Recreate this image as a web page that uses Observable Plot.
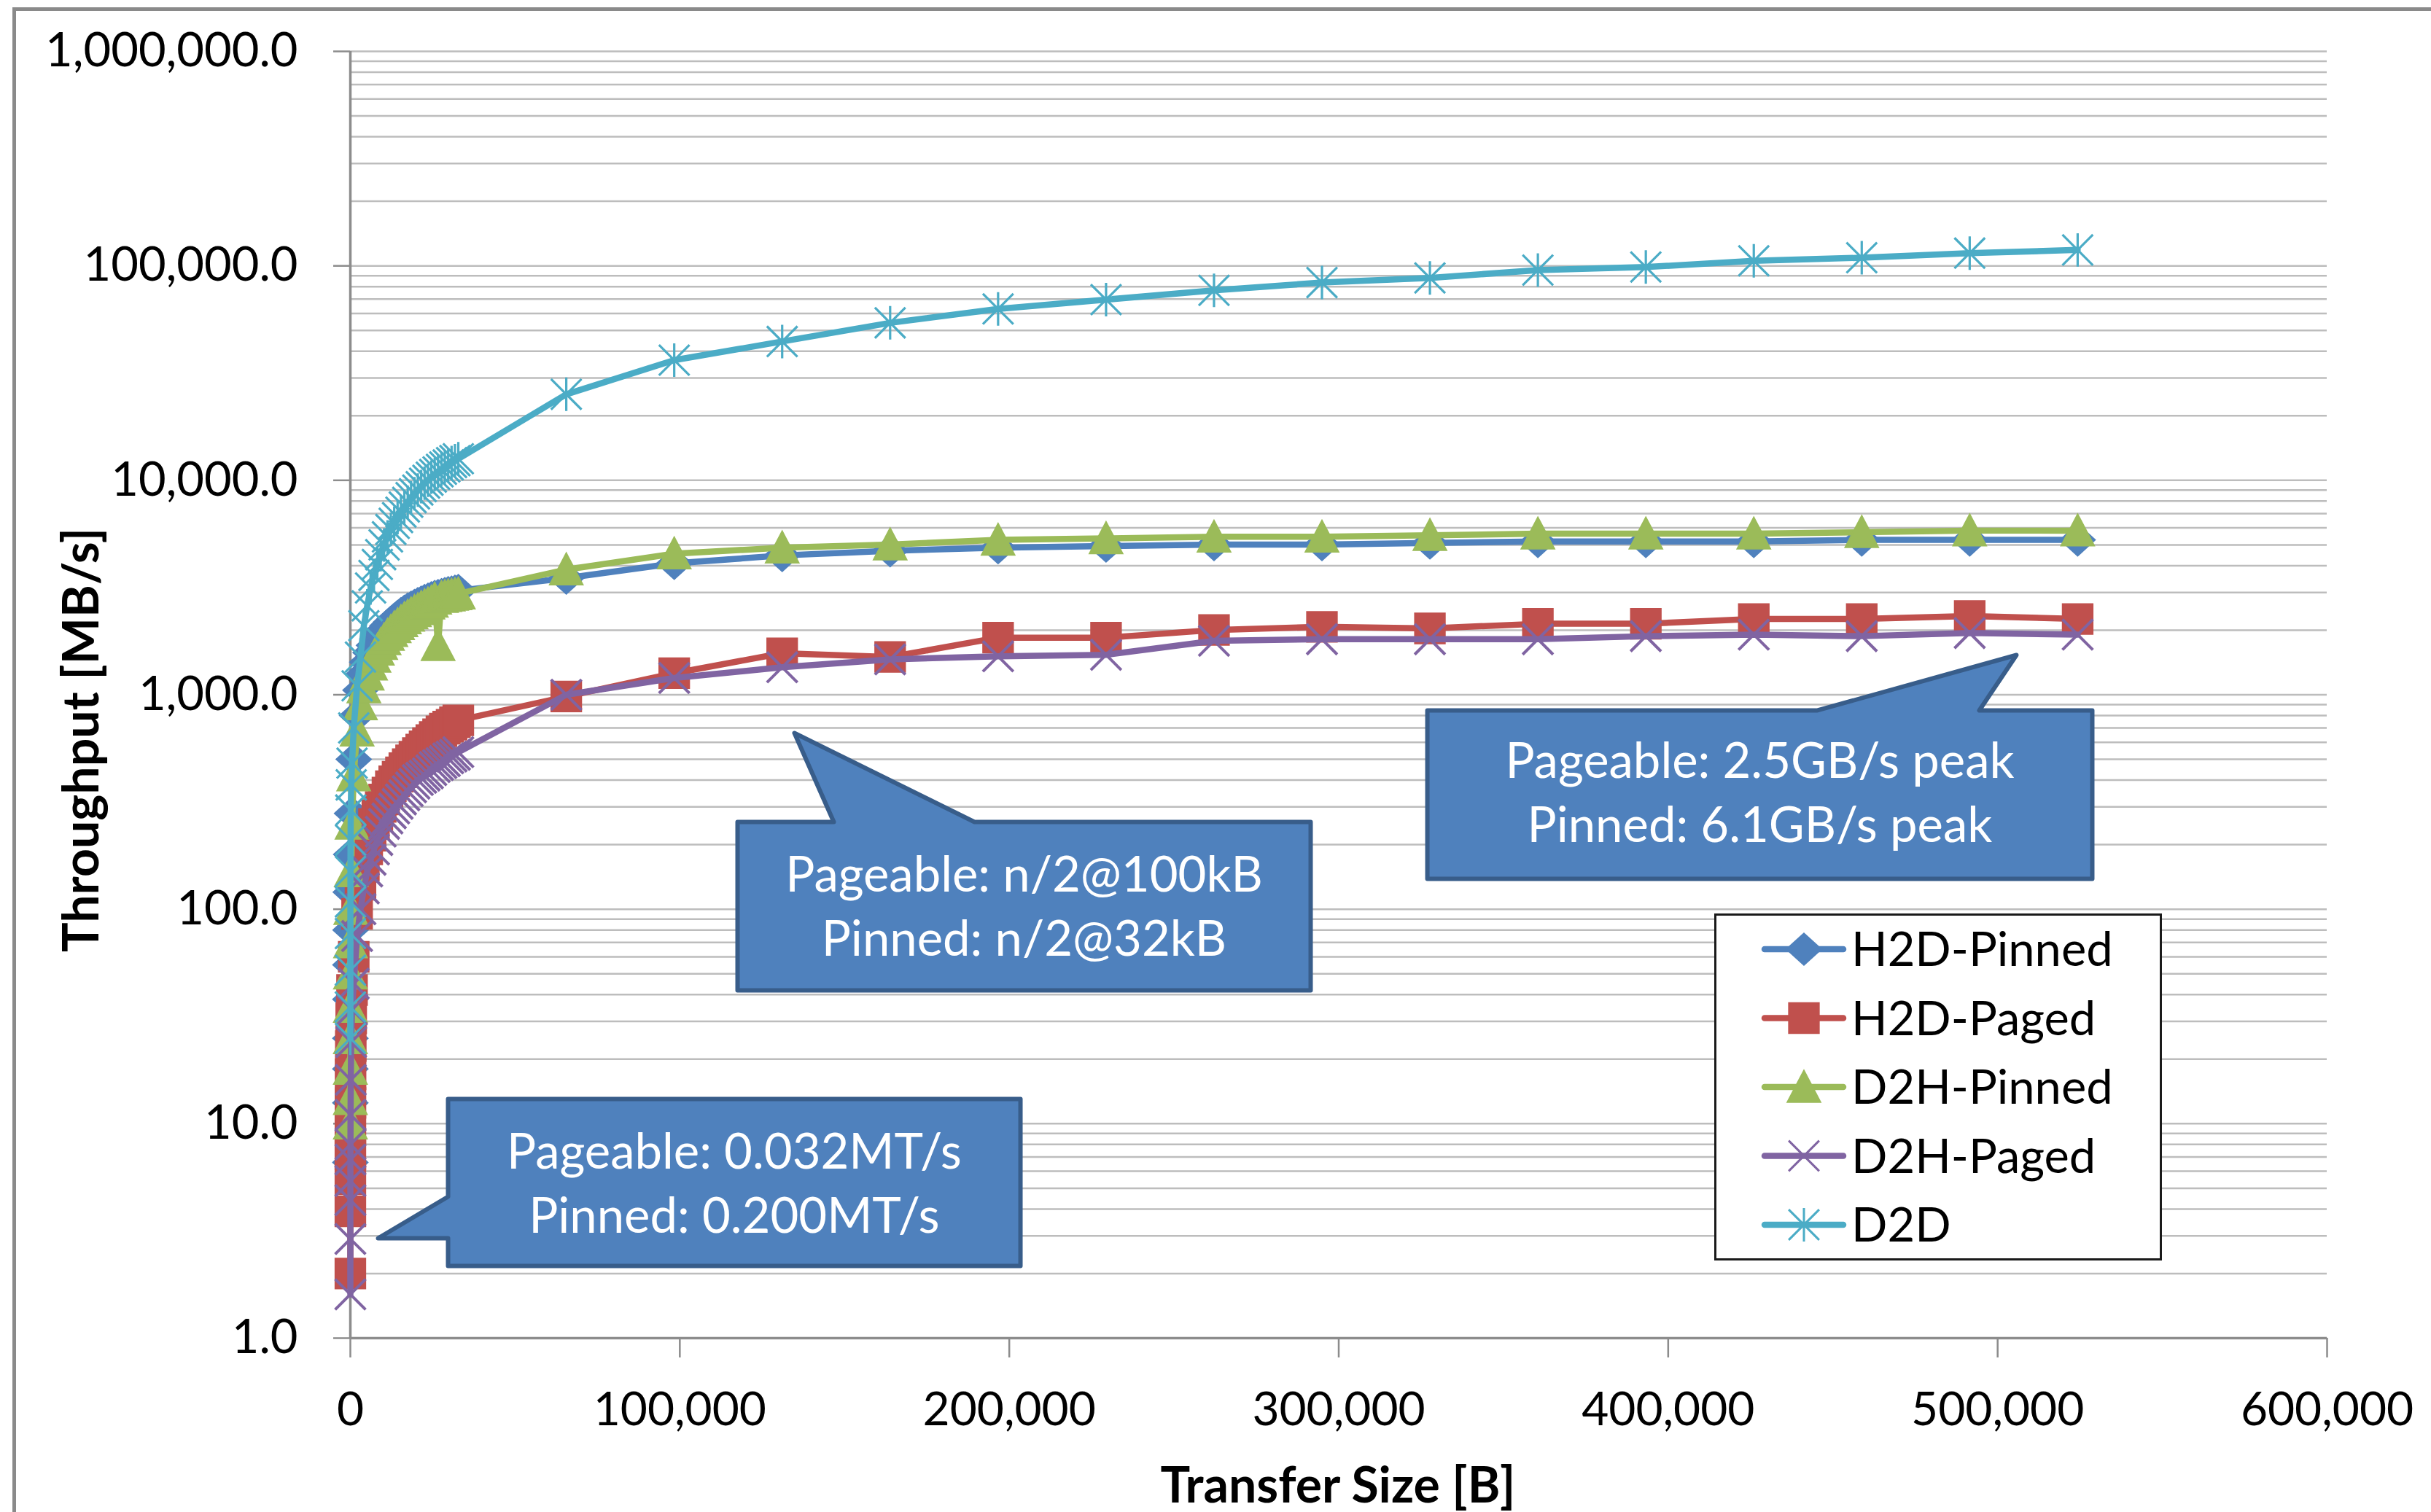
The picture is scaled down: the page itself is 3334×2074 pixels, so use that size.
<!DOCTYPE html>
<html>
<head>
<meta charset="utf-8">
<script src="https://cdn.jsdelivr.net/npm/d3@7"></script>
<script src="https://cdn.jsdelivr.net/npm/@observablehq/plot@0.6"></script>
<style>
html, body { margin: 0; padding: 0; background: #fff; }
#wrap { position: relative; width: 3334px; height: 2074px; overflow: hidden; font-family: Lato, "Open Sans", sans-serif; background: #fff; }
#frame { position: absolute; left: 17px; top: 10px; width: 4000px; height: 3000px; border-left: 5px solid #8a8a8a; border-top: 5px solid #8a8a8a; }
#chart { position: absolute; left: 0; top: 0; }
.title { position: absolute; font-weight: bold; font-size: 68px; white-space: nowrap; color: #000; line-height: 1; }
#ytitle { left: 109px; top: 1015px; transform: translate(-50%, -50%) rotate(-90deg); }
#xtitle { left: 1835px; top: 2035px; transform: translate(-50%, -50%); }
#legend { position: absolute; left: 2351px; top: 1253px; width: 614px; height: 476px; box-sizing: border-box; border: 3px solid #1a1a1a; background: #fff; }
#legend svg { position: absolute; left: 0; top: 0; }
</style>
</head>
<body>
<div id="wrap">
  <div id="frame"></div>
  <div id="chart"></div>
  <div id="legend"></div>
  <div class="title" id="ytitle">Throughput [MB/s]</div>
  <div class="title" id="xtitle">Transfer Size [B]</div>
</div>
<script>
// ---------- data ----------
const sizes = [
  1, 2, 4, 8, 16, 32, 64, 128, 256, 512,
  1024, 2048, 3072, 4096, 5120, 6144, 7168, 8192, 9216, 10240, 11264, 12288, 13312, 14336, 15360, 16384,
  17408, 18432, 19456, 20480, 21504, 22528, 23552, 24576, 25600, 26624, 27648, 28672, 29696, 30720, 31744, 32768,
  65536, 98304, 131072, 163840, 196608, 229376, 262144, 294912, 327680, 360448, 393216, 425984, 458752, 491520, 524288
];

const h2dPinned = [
  6.6, 12.5, 18, 25, 38, 55, 80, 120, 180, 280,
  500, 800, 1050, 1250, 1420, 1570, 1700, 1820, 1920, 2010, 2100, 2180, 2250, 2320, 2390, 2450,
  2510, 2560, 2610, 2660, 2700, 2750, 2790, 2830, 2870, 2900, 2930, 2960, 2990, 3010, 3040, 3060,
  3500, 4100, 4464, 4692, 4851, 4933, 5016, 5016, 5100, 5185, 5185, 5185, 5272, 5272, 5272
];

const h2dPaged = [
  2.0, 3.9, 5.5, 7.2, 9.5, 12.5, 17, 23, 31, 42,
  60, 95, 130, 160, 190, 220, 250, 275, 300, 325, 350, 375, 395, 415, 435, 455,
  475, 495, 515, 535, 555, 575, 595, 615, 635, 655, 675, 695, 710, 725, 745, 760,
  981, 1260, 1562, 1500, 1846, 1846, 2005, 2073, 2039, 2143, 2143, 2255, 2255, 2331, 2255
];

const d2hPinned = [
  10, 13, 18, 25, 35, 50, 70, 100, 150, 250,
  420, 680, 900, 1080, 1240, 1380, 1500, 1620, 1720, 1810, 1900, 1980, 2060, 2130, 2200, 2270,
  2330, 2390, 2450, 2500, 2560, 2610, 2660, 2710, 2800, 1700, 2850, 2880, 2900, 2920, 2940, 2960,
  3835, 4550, 4851, 5016, 5272, 5361, 5451, 5451, 5543, 5636, 5636, 5636, 5730, 5825, 5825
];

const d2hPaged = [
  1.6, 2.9, 4.4, 5.4, 6.8, 8.0, 11, 16, 24, 34,
  45, 75, 100, 125, 150, 170, 190, 210, 230, 250, 265, 280, 295, 310, 325, 340,
  355, 370, 385, 400, 410, 420, 430, 445, 460, 470, 480, 490, 505, 515, 525, 540,
  1000, 1197, 1344, 1462, 1511, 1536, 1785, 1815, 1815, 1815, 1876, 1908, 1876, 1940, 1908
];

const d2d = [
  25, 35, 52, 77, 108, 150, 210, 290, 380, 480,
  700, 1100, 1500, 2100, 2600, 3150, 3600, 4050, 4500, 5000, 5450, 5900, 6300, 6700, 7100, 7500,
  7900, 8300, 8650, 9000, 9350, 9700, 10000, 10350, 10650, 10950, 11250, 11550, 11800, 12100, 12350, 12600,
  25180, 36340, 44400, 54230, 62980, 69580, 76910, 83570, 87840, 95480, 98720, 105500, 109100, 114700, 118600
];

const seriesNames = ["H2D-Pinned", "H2D-Paged", "D2H-Pinned", "D2H-Paged", "D2D"];
const seriesColors = ["#4F81BD", "#C0504D", "#9BBB59", "#8064A2", "#4BACC6"];
const seriesMarkers = ["diamond", "square", "triangle", "times", "star"];
const seriesValues = [h2dPinned, h2dPaged, d2hPinned, d2hPaged, d2d];

const xTicks = [0, 100000, 200000, 300000, 400000, 500000, 600000];
const yMajors = [1, 10, 100, 1000, 10000, 100000, 1000000];
const yMinorMultipliers = [1, 2, 3, 4, 5, 6, 7, 8, 9];

// callout annotations (in data coordinates: bytes, MB/s)
const calloutText = [
  "Pageable: n/2@100kB\nPinned: n/2@32kB",
  "Pageable: 2.5GB/s peak\nPinned: 6.1GB/s peak",
  "Pageable: 0.032MT/s\nPinned: 0.200MT/s"
];
const calloutTextX = [204500, 427800, 116500];
const calloutTextY = [107, 362, 5.45];
const calloutShapeX = [
  [117520, 146740, 134780, 189450, 291480, 291480, 117520, 117520],
  [326900, 445300, 505720, 494430, 528730, 528730, 326900, 326900],
  [29660, 203400, 203400, 29660, 29660, 8410, 29660, 29660]
];
const calloutShapeY = [
  [255.2, 255.2, 663, 255.2, 255.2, 41.8, 41.8, 255.2],
  [845.3, 845.3, 1532, 845.3, 845.3, 138.6, 138.6, 845.3],
  [13.04, 13.04, 2.17, 2.17, 2.922, 2.922, 4.565, 13.04]
];

// ---------- build ----------
const rows = seriesNames.flatMap((name, i) =>
  sizes.map((s, j) => ({series: name, size: s, value: seriesValues[i][j]})));

const calloutPts = calloutShapeX.flatMap((xs, i) => xs.map((x, j) => ({id: i, x, y: calloutShapeY[i][j]})));
const calloutLabels = calloutText.map((t, i) => ({text: t, x: calloutTextX[i], y: calloutTextY[i]}));

const yGrid = yMajors.slice(0, -1).flatMap(d => yMinorMultipliers.map(k => k * d)).concat([1000000]);

const R = 22;
const symbols = {
  diamond: {draw(c, size) { const r = Math.sqrt(size / Math.PI); c.moveTo(0, -r); c.lineTo(r * 1.1, 0); c.lineTo(0, r); c.lineTo(-r * 1.1, 0); c.closePath(); }},
  square: {draw(c, size) { const r = Math.sqrt(size / Math.PI) * 0.95; c.moveTo(-r, -r); c.lineTo(r, -r); c.lineTo(r, r); c.lineTo(-r, r); c.closePath(); }},
  triangle: {draw(c, size) { const r = Math.sqrt(size / Math.PI); c.moveTo(0, -r * 1.05); c.lineTo(r * 1.05, r * 0.95); c.lineTo(-r * 1.05, r * 0.95); c.closePath(); }},
  times: {draw(c, size) { const r = Math.sqrt(size / Math.PI) * 0.95; c.moveTo(-r, -r); c.lineTo(r, r); c.moveTo(-r, r); c.lineTo(r, -r); }},
  star: {draw(c, size) { const r = Math.sqrt(size / Math.PI) * 0.95; c.moveTo(-r, -r); c.lineTo(r, r); c.moveTo(-r, r); c.lineTo(r, -r); c.moveTo(0, -r * 1.1); c.lineTo(0, r * 1.1); }}
};
const filled = {diamond: true, square: true, triangle: true, times: false, star: false};

const seriesMarks = seriesNames.flatMap((name, i) => {
  const data = rows.filter(d => d.series === name);
  const col = seriesColors[i];
  const m = seriesMarkers[i];
  return [
    Plot.line(data, {x: "size", y: "value", stroke: col, strokeWidth: 8.5, strokeLinejoin: "round", strokeLinecap: "round"}),
    filled[m]
      ? Plot.dot(data, {x: "size", y: "value", symbol: symbols[m], r: R, fill: col, stroke: col, strokeWidth: 1.5})
      : Plot.dot(data, {x: "size", y: "value", symbol: symbols[m], r: R, fill: "none", stroke: col, strokeWidth: m === "times" ? 4 : 3.2})
  ];
});

const chart = Plot.plot({
  width: 3334,
  height: 2074,
  marginLeft: 480,
  marginRight: 143,
  marginTop: 70,
  marginBottom: 239,
  style: {fontFamily: "Lato, 'Open Sans', sans-serif", color: "#000", background: "transparent", overflow: "visible"},
  x: {domain: [0, 600000], label: null},
  y: {type: "log", domain: [1, 1000000], label: null},
  marks: [
    Plot.gridY(yGrid, {stroke: "#bdbdbd", strokeWidth: 2.5, strokeOpacity: 1}),
    Plot.axisY({ticks: yMajors, tickFormat: d => d3.format(",.1f")(d), tickSize: 23, tickPadding: 49, fontSize: 65, stroke: "#8c8c8c", strokeWidth: 2.5, fill: "#000", label: null}),
    Plot.axisX({ticks: xTicks, tickFormat: d => d3.format(",")(d), tickSize: 27, tickPadding: 47, fontSize: 64, stroke: "#8c8c8c", strokeWidth: 2.5, fill: "#000", label: null}),
    Plot.ruleX([0], {stroke: "#8c8c8c", strokeWidth: 3.5}),
    Plot.ruleY([1], {stroke: "#8c8c8c", strokeWidth: 3.5}),
    ...seriesMarks,
    Plot.line(calloutPts, {x: "x", y: "y", z: "id", fill: "#4F81BD", stroke: "#385D8A", strokeWidth: 6, strokeLinejoin: "round"}),
    Plot.text(calloutLabels, {x: "x", y: "y", text: "text", fill: "#fff", fontSize: 67, lineHeight: 1.32, textAnchor: "middle"})
  ]
});
document.getElementById("chart").appendChild(chart);

// ---------- legend ----------
const lg = d3.select("#legend").append("svg").attr("width", 608).attr("height", 470);
seriesNames.forEach((name, i) => {
  const cy = 46 + i * 94.5;
  const col = seriesColors[i];
  const g = lg.append("g");
  g.append("line").attr("x1", 66).attr("x2", 174).attr("y1", cy).attr("y2", cy)
    .attr("stroke", col).attr("stroke-width", 8.5).attr("stroke-linecap", "round");
  const p = d3.path();
  symbols[seriesMarkers[i]].draw(p, Math.PI * R * R);
  const path = g.append("path").attr("d", p.toString()).attr("transform", `translate(120,${cy})`);
  if (filled[seriesMarkers[i]]) path.attr("fill", col).attr("stroke", col).attr("stroke-width", 1.5);
  else path.attr("fill", "none").attr("stroke", col).attr("stroke-width", 3);
  g.append("text").attr("x", 185).attr("y", cy).attr("dy", "0.36em")
    .attr("font-family", "Lato, 'Open Sans', sans-serif").attr("font-size", 65).attr("fill", "#000").text(name);
});
</script>
</body>
</html>
